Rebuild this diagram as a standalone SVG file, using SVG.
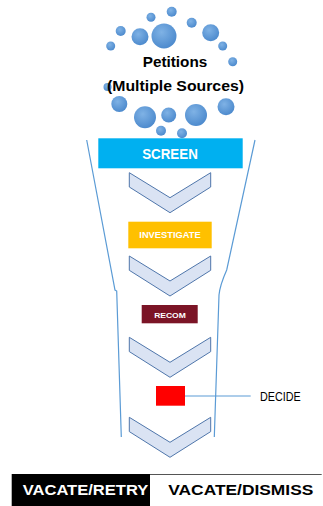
<svg xmlns="http://www.w3.org/2000/svg" width="323" height="506" viewBox="0 0 323 506">
<defs>
<radialGradient id="bub" cx="0.4" cy="0.35" r="0.7">
<stop offset="0" stop-color="#7FB2E5"/>
<stop offset="1" stop-color="#4A88CC"/>
</radialGradient>
<style>
.b{fill:url(#bub);}
.t{font-family:"Liberation Sans",Arial,sans-serif;font-weight:bold;}
.chev{fill:#DAE3F3;stroke:#4F76AB;stroke-width:1;}
.fun{fill:none;stroke:#5B9BD5;stroke-width:1.2;}
</style>
</defs>
<rect width="323" height="506" fill="#FFFFFF"/>
<g id="petitions">
<circle class="b" cx="171.7" cy="11.7" r="5"/>
<circle class="b" cx="151" cy="17.3" r="4.5"/>
<circle class="b" cx="191.7" cy="22.7" r="5"/>
<circle class="b" cx="120.7" cy="31" r="5"/>
<circle class="b" cx="140" cy="36.7" r="8.5"/>
<circle class="b" cx="164" cy="36" r="12.5"/>
<circle class="b" cx="210.7" cy="32.7" r="8.5"/>
<circle class="b" cx="110.7" cy="46" r="4.5"/>
<circle class="b" cx="222.7" cy="46" r="4.5"/>
<circle class="b" cx="232.7" cy="61.7" r="4.5"/>
<circle class="b" cx="107.5" cy="87" r="4"/>
<circle class="b" cx="119.3" cy="104" r="8"/>
<circle class="b" cx="145" cy="117.3" r="11"/>
<circle class="b" cx="168.7" cy="115" r="7.5"/>
<circle class="b" cx="196" cy="115" r="11"/>
<circle class="b" cx="226" cy="106.7" r="8.5"/>
<circle class="b" cx="161" cy="130.7" r="5"/>
<circle class="b" cx="182" cy="133.3" r="5"/>
<text class="t" x="175" y="66.7" font-size="15" text-anchor="middle" textLength="64.6" lengthAdjust="spacingAndGlyphs" fill="#000">Petitions</text>
<text class="t" x="175.5" y="90.7" font-size="15" text-anchor="middle" textLength="137" lengthAdjust="spacingAndGlyphs" fill="#000">(Multiple Sources)</text>
</g>
<g id="funnel">
<path class="fun" d="M86.7,140 L115,290 L116.7,291 L121.3,437"/>
<path class="fun" d="M255,140 L226.7,270 Q220,285 219,295 L214.3,437"/>
</g>
<g id="screen">
<rect x="98.3" y="138.3" width="144.4" height="30" fill="#00B0F0"/>
<text class="t" x="170" y="159" font-size="15" text-anchor="middle" textLength="55.6" lengthAdjust="spacingAndGlyphs" fill="#FFFFFF">SCREEN</text>
</g>
<g id="connectors">
<polygon class="chev" points="129.3,172.7 170,197.7 210.7,172.7 210.7,187 170,212.7 129.3,187"/>
<polygon class="chev" points="129.3,256 170,281 210.7,256 210.7,270.3 170,296 129.3,270.3"/>
<polygon class="chev" points="129.3,337.3 170,362.3 210.7,337.3 210.7,351.6 170,377.3 129.3,351.6"/>
<polygon class="chev" points="129.3,417.3 170,442.3 210.7,417.3 210.7,431.6 170,457.3 129.3,431.6"/>
<line x1="185" y1="396" x2="250.7" y2="396" stroke="#5B9BD5" stroke-width="1"/>
</g>
<g id="investigate">
<rect x="128.3" y="221.7" width="83.4" height="26.6" fill="#FFC000"/>
<text class="t" x="170" y="237.5" font-size="8.5" text-anchor="middle" textLength="61.4" lengthAdjust="spacingAndGlyphs" fill="#FFFFFF">INVESTIGATE</text>
</g>
<g id="recom">
<rect x="141.7" y="305" width="56" height="18.3" fill="#7B1426"/>
<text class="t" x="170" y="317.6" font-size="7.5" text-anchor="middle" textLength="31.7" lengthAdjust="spacingAndGlyphs" fill="#FFFFFF">RECOM</text>
</g>
<g id="decide">
<rect x="156" y="386" width="29" height="19.7" fill="#FF0000"/>
<text x="260" y="400.7" font-family="Liberation Sans,Arial,sans-serif" font-size="12" textLength="40.7" lengthAdjust="spacingAndGlyphs" fill="#000">DECIDE</text>
</g>
<g id="outcomes">
<rect x="11.7" y="474" width="138.3" height="32" fill="#000000"/>
<line x1="150" y1="474.5" x2="321.7" y2="474.5" stroke="#555" stroke-width="1"/>
<text class="t" x="22.7" y="495" font-size="14" textLength="125.6" lengthAdjust="spacingAndGlyphs" fill="#FFFFFF">VACATE/RETRY</text>
<text class="t" x="168.3" y="495" font-size="14" textLength="145" lengthAdjust="spacingAndGlyphs" fill="#000000">VACATE/DISMISS</text>
</g>
</svg>
